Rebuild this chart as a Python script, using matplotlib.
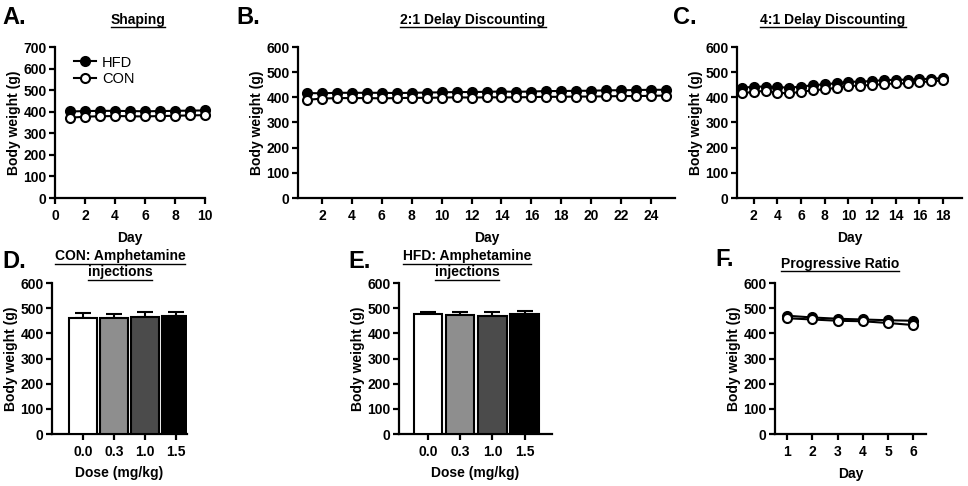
import matplotlib
matplotlib.use('Agg')
import matplotlib.pyplot as plt
from matplotlib.lines import Line2D

plt.rcParams['font.family'] = ['Liberation Sans', 'DejaVu Sans']
plt.rcParams['font.weight'] = 'bold'
plt.rcParams['axes.labelweight'] = 'bold'

# data
shaping_days = list(range(1, 11))
shaping_hfd = [401, 403, 404, 404, 403, 402, 403, 404, 405, 406]
shaping_con = [372, 377, 379, 380, 379, 378, 380, 381, 383, 384]

dd2_days = list(range(1, 26))
dd2_hfd = [417, 416, 418, 418, 418, 418, 417, 418, 419, 420, 421, 421, 422, 423, 422,
           423, 425, 425, 426, 426, 428, 428, 429, 430, 430]
dd2_con = [390, 395, 397, 397, 397, 396, 397, 398, 398, 399, 400, 399, 400, 400, 400,
           401, 402, 402, 403, 403, 404, 405, 405, 406, 407]

dd4_days = list(range(1, 19))
dd4_hfd = [438, 442, 443, 441, 438, 443, 448, 452, 456, 462, 462, 465, 468, 470, 470, 472, 474, 476]
dd4_con = [416, 422, 426, 418, 416, 422, 428, 432, 438, 446, 446, 450, 452, 456, 455, 460, 464, 467]

doses = ['0.0', '0.3', '1.0', '1.5']
con_amph = [459, 462, 466, 469]
con_amph_err = [22, 14, 17, 15]
hfd_amph = [476, 472, 470, 477]
hfd_amph_err = [10, 12, 13, 11]
bar_colors = ['white', '#8e8e8e', '#4b4b4b', 'black']

pr_days = list(range(1, 7))
pr_hfd = [470, 463, 458, 455, 452, 450]
pr_con = [460, 455, 450, 448, 441, 433]

W, H = 968, 486
fig = plt.figure(figsize=(W / 100, H / 100), dpi=100)


def make_ax(l, r, t, b):
    return fig.add_axes([l / W, 1 - b / H, (r - l) / W, (b - t) / H])


def style(ax):
    for s in ['top', 'right']:
        ax.spines[s].set_visible(False)
    for s in ['left', 'bottom']:
        ax.spines[s].set_linewidth(1.6)
    ax.tick_params(width=1.6, length=4, labelsize=10)
    ax.tick_params(axis='x', pad=4)
    ax.tick_params(axis='y', pad=2)
    for lab in ax.get_xticklabels() + ax.get_yticklabels():
        lab.set_fontweight('bold')
    ax.set_ylabel('Body weight (g)', fontsize=10, labelpad=2)


def ulined_title(x, y, lines):
    fig.canvas.draw()
    r = fig.canvas.get_renderer()
    for i, s in enumerate(lines):
        yy = y + i * 16
        t = fig.text(x / W, 1 - yy / H, s, ha='center', va='center', fontsize=10, fontweight='bold')
        bb = t.get_window_extent(renderer=r)
        ly = (bb.y0 - 0.5) / H
        fig.add_artist(Line2D([bb.x0 / W, bb.x1 / W], [ly, ly], color='black', lw=1.0))


def panel_label(x, y, s):
    fig.text(x / W, 1 - y / H, s, ha='left', va='center', fontsize=17, fontweight='bold')


def line_panel(ax, days, hfd, con, xlim, xticks, ymax):
    ax.plot(days, hfd, '-o', color='black', mfc='black', mec='black', ms=6.5, mew=1.5, lw=1.5,
            label='HFD', clip_on=False, zorder=3)
    ax.plot(days, con, '-o', color='black', mfc='white', mec='black', ms=6.5, mew=1.5, lw=1.5,
            label='CON', clip_on=False, zorder=4)
    ax.set_xlim(*xlim)
    ax.set_ylim(0, ymax)
    ax.set_xticks(xticks)
    ax.set_yticks(range(0, ymax + 1, 100))
    ax.set_xlabel('Day', fontsize=10, labelpad=6)
    style(ax)


def bar_panel(ax, vals, errs, xlim):
    x = list(range(len(vals)))
    ax.bar(x, vals, width=0.88, color=bar_colors, edgecolor='black', linewidth=1.5, zorder=3)
    ax.errorbar(x, vals, yerr=[[0] * len(errs), errs], fmt='none', ecolor='black',
                elinewidth=1.5, capsize=6, capthick=1.5, zorder=2)
    ax.set_xlim(*xlim)
    ax.set_ylim(0, 600)
    ax.set_yticks(range(0, 601, 100))
    ax.set_xticks(x)
    ax.set_xticklabels(doses)
    ax.set_xlabel('Dose (mg/kg)', fontsize=10, labelpad=5)
    style(ax)


# A
axA = make_ax(55, 205, 47, 198)
line_panel(axA, shaping_days, shaping_hfd, shaping_con, (0, 10), range(0, 11, 2), 700)
axA.legend(loc='upper left', bbox_to_anchor=(0.04, 1.03), frameon=False,
           handlelength=1.5, handletextpad=0.4, labelspacing=0.15,
           prop={'weight': 'normal', 'size': 10.5})

# B
axB = make_ax(298, 675, 47, 198)
line_panel(axB, dd2_days, dd2_hfd, dd2_con, (0.4, 25.6), range(2, 25, 2), 600)

# C
axC = make_ax(737, 962, 47, 198)
line_panel(axC, dd4_days, dd4_hfd, dd4_con, (0.58, 19.6), range(2, 19, 2), 600)

# D
axD = make_ax(52, 187, 283, 434)
bar_panel(axD, con_amph, con_amph_err, (-1.0, 3.35))

# E
axE = make_ax(399, 552, 283, 434)
bar_panel(axE, hfd_amph, hfd_amph_err, (-0.9, 3.85))

# F
axF = make_ax(775, 926, 283, 434)
line_panel(axF, pr_days, pr_hfd, pr_con, (0.52, 6.5), pr_days, 600)

panel_label(2, 18, 'A.')
panel_label(236, 18, 'B.')
panel_label(673, 18, 'C.')
panel_label(2, 261, 'D.')
panel_label(348, 261, 'E.')
panel_label(715, 259, 'F.')

ulined_title(138, 20, ['Shaping'])
ulined_title(473, 20, ['2:1 Delay Discounting'])
ulined_title(833, 20, ['4:1 Delay Discounting'])
ulined_title(120, 256, ['CON: Amphetamine', 'injections'])
ulined_title(467, 256, ['HFD: Amphetamine', 'injections'])
ulined_title(840, 264, ['Progressive Ratio'])

fig.savefig('out.png', dpi=100)
